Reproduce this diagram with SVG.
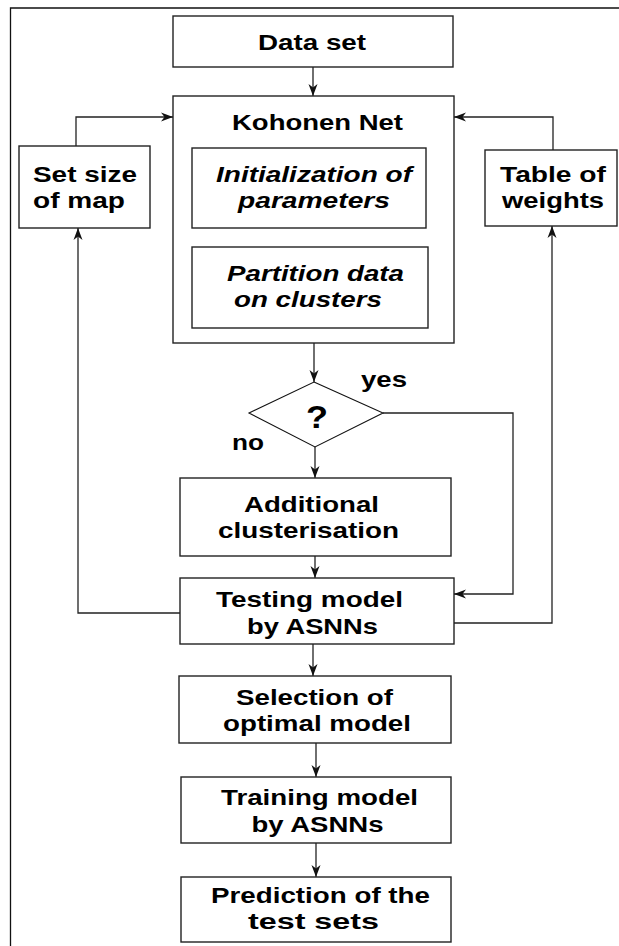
<svg xmlns="http://www.w3.org/2000/svg" width="619" height="946" viewBox="0 0 619 946">
  <defs>
    <marker id="arrow" viewBox="0 0 12 10" refX="12" refY="5" markerWidth="12" markerHeight="10" markerUnits="userSpaceOnUse" orient="auto">
      <path d="M0,0.5 L12,5 L0,9.5 L3.5,5 z" fill="#111"/>
    </marker>
  </defs>
  <style>
    .box { fill: #fff; stroke: #222; stroke-width: 1.4; }
    .dec { fill: #fff; stroke: #111; stroke-width: 1.1; }
    .frame { fill: none; stroke: #111; stroke-width: 1.3; }
    .wire { fill: none; stroke: #222; stroke-width: 1.3; }
    .arr { marker-end: url(#arrow); }
    text { font-family: "Liberation Sans", Arial, Helvetica, sans-serif; font-weight: bold; font-size: 22px; fill: #000; text-anchor: middle; }
    .it { font-style: italic; }
    .lbl { text-anchor: start; }
  </style>

  <rect width="619" height="946" fill="#fff"/>
  <!-- page frame (left and top edges) -->
  <path class="frame" d="M10.5,946 V8 H619"/>

  <g id="connectors">
    <path class="wire arr" d="M313,67 V96"/>
    <path class="wire arr" d="M76,146 V117 H173"/>
    <path class="wire arr" d="M553,150 V117 H454"/>
    <path class="wire arr" d="M314,343 V382"/>
    <path class="wire arr" d="M315,447 V478"/>
    <path class="wire arr" d="M315,556 V578"/>
    <path class="wire arr" d="M383,413 H513 V594 H454"/>
    <path class="wire arr" d="M180,613 H78 V228"/>
    <path class="wire arr" d="M454,623 H552 V226"/>
    <path class="wire arr" d="M313,644 V676"/>
    <path class="wire arr" d="M316,743 V777"/>
    <path class="wire arr" d="M316,843 V877"/>
  </g>

  <g id="data-set">
    <rect class="box" x="173" y="16" width="280" height="51"/>
    <text x="312" y="50" textLength="108" lengthAdjust="spacingAndGlyphs">Data set</text>
  </g>

  <g id="kohonen-net">
    <rect class="box" x="173" y="96" width="281" height="247"/>
    <text x="317.5" y="130" textLength="171" lengthAdjust="spacingAndGlyphs">Kohonen Net</text>
    <g id="init-params">
      <rect class="box" x="192" y="148" width="234" height="80"/>
      <text class="it" x="314" y="182" textLength="196" lengthAdjust="spacingAndGlyphs">Initialization of</text>
      <text class="it" x="314" y="208" textLength="152" lengthAdjust="spacingAndGlyphs">parameters</text>
    </g>
    <g id="partition">
      <rect class="box" x="192" y="247" width="236" height="81"/>
      <text class="it" x="315.5" y="281" textLength="177" lengthAdjust="spacingAndGlyphs">Partition data</text>
      <text class="it" x="308" y="307" textLength="148" lengthAdjust="spacingAndGlyphs">on clusters</text>
    </g>
  </g>

  <g id="set-size">
    <rect class="box" x="19" y="146" width="131" height="82"/>
    <text class="lbl" x="33" y="182" textLength="104" lengthAdjust="spacingAndGlyphs">Set size</text>
    <text class="lbl" x="33" y="208" textLength="92" lengthAdjust="spacingAndGlyphs">of map</text>
  </g>

  <g id="table-weights">
    <rect class="box" x="485" y="150" width="132" height="76"/>
    <text x="553" y="182" textLength="106" lengthAdjust="spacingAndGlyphs">Table of</text>
    <text x="553" y="208" textLength="102" lengthAdjust="spacingAndGlyphs">weights</text>
  </g>

  <g id="decision">
    <polygon class="dec" points="314,382 383,413 315,447 249,413"/>
    <text x="317" y="428" style="font-size:32px" textLength="22" lengthAdjust="spacingAndGlyphs">?</text>
    <text class="lbl" x="361" y="387" textLength="46" lengthAdjust="spacingAndGlyphs">yes</text>
    <text class="lbl" x="232" y="450" textLength="32" lengthAdjust="spacingAndGlyphs">no</text>
  </g>

  <g id="additional">
    <rect class="box" x="180" y="478" width="271" height="78"/>
    <text x="311.5" y="512" textLength="135" lengthAdjust="spacingAndGlyphs">Additional</text>
    <text x="308.5" y="538" textLength="181" lengthAdjust="spacingAndGlyphs">clusterisation</text>
  </g>

  <g id="testing">
    <rect class="box" x="180" y="578" width="274" height="66"/>
    <text x="309.5" y="607" textLength="187" lengthAdjust="spacingAndGlyphs">Testing model</text>
    <text x="312.5" y="634" textLength="131" lengthAdjust="spacingAndGlyphs">by ASNNs</text>
  </g>

  <g id="selection">
    <rect class="box" x="179" y="676" width="272" height="67"/>
    <text x="314.5" y="705" textLength="157" lengthAdjust="spacingAndGlyphs">Selection of</text>
    <text x="317" y="731" textLength="188" lengthAdjust="spacingAndGlyphs">optimal model</text>
  </g>

  <g id="training">
    <rect class="box" x="181" y="777" width="270" height="66"/>
    <text x="319.5" y="805" textLength="197" lengthAdjust="spacingAndGlyphs">Training model</text>
    <text x="317.5" y="832" textLength="132" lengthAdjust="spacingAndGlyphs">by ASNNs</text>
  </g>

  <g id="prediction">
    <rect class="box" x="181" y="877" width="270" height="65"/>
    <text x="320.5" y="903" textLength="219" lengthAdjust="spacingAndGlyphs">Prediction of the</text>
    <text x="313.5" y="929" textLength="131" lengthAdjust="spacingAndGlyphs">test sets</text>
  </g>
</svg>
